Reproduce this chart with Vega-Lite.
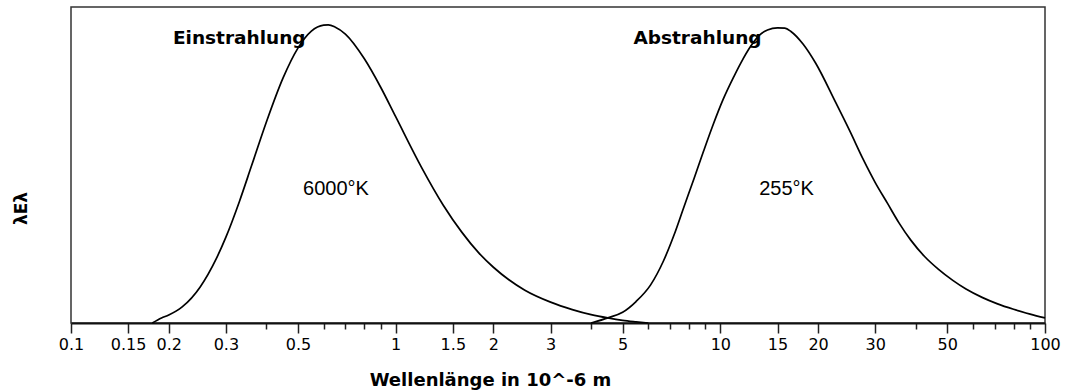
{
  "$schema": "https://vega.github.io/schema/vega-lite/v6.json",
  "width": 974,
  "height": 316,
  "autosize": {"type": "none"},
  "padding": {"left": 71, "top": 7, "right": 23, "bottom": 69},
  "background": "white",
  "config": {"view": {"stroke": "#333", "strokeWidth": 1.5}},
  "datasets": {
    "curves": [
      {"curve": "6000K", "lam": 0.178, "v": 0},
      {"curve": "6000K", "lam": 0.19, "v": 1.7},
      {"curve": "6000K", "lam": 0.2, "v": 2.7},
      {"curve": "6000K", "lam": 0.22, "v": 5.4},
      {"curve": "6000K", "lam": 0.25, "v": 12.1},
      {"curve": "6000K", "lam": 0.28, "v": 21.5},
      {"curve": "6000K", "lam": 0.3, "v": 28.8},
      {"curve": "6000K", "lam": 0.33, "v": 40.7},
      {"curve": "6000K", "lam": 0.36, "v": 52.8},
      {"curve": "6000K", "lam": 0.4, "v": 67.5},
      {"curve": "6000K", "lam": 0.45, "v": 82.2},
      {"curve": "6000K", "lam": 0.5, "v": 92.2},
      {"curve": "6000K", "lam": 0.55, "v": 97.9},
      {"curve": "6000K", "lam": 0.6, "v": 99.9},
      {"curve": "6000K", "lam": 0.62, "v": 100},
      {"curve": "6000K", "lam": 0.65, "v": 99.3},
      {"curve": "6000K", "lam": 0.7, "v": 96.9},
      {"curve": "6000K", "lam": 0.8, "v": 88.7},
      {"curve": "6000K", "lam": 0.9, "v": 79.0},
      {"curve": "6000K", "lam": 1.0, "v": 69.2},
      {"curve": "6000K", "lam": 1.2, "v": 52.3},
      {"curve": "6000K", "lam": 1.4, "v": 39.6},
      {"curve": "6000K", "lam": 1.6, "v": 30.4},
      {"curve": "6000K", "lam": 1.8, "v": 23.6},
      {"curve": "6000K", "lam": 2.0, "v": 18.7},
      {"curve": "6000K", "lam": 2.5, "v": 11.0},
      {"curve": "6000K", "lam": 3.0, "v": 7.0},
      {"curve": "6000K", "lam": 3.5, "v": 4.5},
      {"curve": "6000K", "lam": 4.0, "v": 2.8},
      {"curve": "6000K", "lam": 4.5, "v": 1.7},
      {"curve": "6000K", "lam": 5.0, "v": 0.9},
      {"curve": "6000K", "lam": 5.5, "v": 0.4},
      {"curve": "6000K", "lam": 6.0, "v": 0},
      {"curve": "255K", "lam": 4.0, "v": 0},
      {"curve": "255K", "lam": 4.53, "v": 1.8},
      {"curve": "255K", "lam": 5.0, "v": 3.6},
      {"curve": "255K", "lam": 5.5, "v": 7.2},
      {"curve": "255K", "lam": 6.1, "v": 12.8},
      {"curve": "255K", "lam": 6.68, "v": 20.8},
      {"curve": "255K", "lam": 7.2, "v": 29.5},
      {"curve": "255K", "lam": 7.7, "v": 38.5},
      {"curve": "255K", "lam": 8.3, "v": 48.5},
      {"curve": "255K", "lam": 8.87, "v": 57.5},
      {"curve": "255K", "lam": 9.5, "v": 66.5},
      {"curve": "255K", "lam": 10.2, "v": 75.0},
      {"curve": "255K", "lam": 11.0, "v": 82.6},
      {"curve": "255K", "lam": 11.56, "v": 87.2},
      {"curve": "255K", "lam": 12.43, "v": 93.0},
      {"curve": "255K", "lam": 13.2, "v": 96.6},
      {"curve": "255K", "lam": 13.97, "v": 98.3},
      {"curve": "255K", "lam": 15.0, "v": 99.0},
      {"curve": "255K", "lam": 15.8, "v": 98.9},
      {"curve": "255K", "lam": 16.5, "v": 97.8},
      {"curve": "255K", "lam": 18.0, "v": 93.5},
      {"curve": "255K", "lam": 19.65, "v": 87.2},
      {"curve": "255K", "lam": 22.7, "v": 73.8},
      {"curve": "255K", "lam": 25.0, "v": 64.6},
      {"curve": "255K", "lam": 27.6, "v": 54.7},
      {"curve": "255K", "lam": 30.0, "v": 47.1},
      {"curve": "255K", "lam": 32.7, "v": 40.2},
      {"curve": "255K", "lam": 35.5, "v": 33.6},
      {"curve": "255K", "lam": 38.6, "v": 27.8},
      {"curve": "255K", "lam": 42.5, "v": 22.4},
      {"curve": "255K", "lam": 47.0, "v": 18.0},
      {"curve": "255K", "lam": 52.0, "v": 14.3},
      {"curve": "255K", "lam": 57.1, "v": 11.4},
      {"curve": "255K", "lam": 64.0, "v": 8.6},
      {"curve": "255K", "lam": 71.1, "v": 6.5},
      {"curve": "255K", "lam": 80.0, "v": 4.6},
      {"curve": "255K", "lam": 90.0, "v": 3.0},
      {"curve": "255K", "lam": 100.0, "v": 1.7}
    ],
    "titles": [
      {"label": "Einstrahlung", "lam": 0.206, "v": 93.6},
      {"label": "Abstrahlung", "lam": 5.4, "v": 93.6}
    ],
    "temps": [
      {"label": "6000°K", "lam": 0.655, "v": 42.9},
      {"label": "255°K", "lam": 16.0, "v": 42.9}
    ]
  },
  "encoding": {
    "x": {
      "field": "lam",
      "type": "quantitative",
      "scale": {"type": "log", "domain": [0.1, 100], "nice": false},
      "axis": {
        "values": [0.1, 0.15, 0.2, 0.3, 0.4, 0.5, 0.6, 0.7, 0.8, 0.9, 1, 1.5, 2, 3, 4, 5, 6, 7, 8, 9, 10, 15, 20, 30, 40, 50, 60, 70, 80, 90, 100],
        "format": "~g",
        "labelExpr": "indexof([0.4, 0.6, 0.7, 0.8, 0.9, 4, 6, 7, 8, 9, 40, 60, 70, 80, 90], datum.value) >= 0 ? '' : datum.label",
        "tickSize": {"condition": {"test": "indexof([0.4, 0.6, 0.7, 0.8, 0.9, 4, 6, 7, 8, 9, 40, 60, 70, 80, 90], datum.value) >= 0", "value": 6}, "value": 10},
        "labelFlush": false,
        "labelOverlap": false,
        "grid": false,
        "domainColor": "#111",
        "domainWidth": 2,
        "tickColor": "#222",
        "tickWidth": 1.5,
        "labelFont": "DejaVu Sans",
        "labelFontSize": 16,
        "labelColor": "black",
        "labelPadding": 3,
        "title": "Wellenlänge in 10^-6 m",
        "titleFont": "DejaVu Sans",
        "titleFontSize": 18,
        "titleFontWeight": "bold",
        "titleColor": "black",
        "titleX": 419,
        "titleY": 62,
        "titleAlign": "center",
        "titleBaseline": "alphabetic"
      }
    },
    "y": {
      "field": "v",
      "type": "quantitative",
      "scale": {"domain": [0, 106], "nice": false},
      "axis": {
        "title": "λEλ",
        "labels": false,
        "ticks": false,
        "domain": false,
        "grid": false,
        "titleFont": "DejaVu Sans",
        "titleFontWeight": "bold",
        "titleFontSize": 17,
        "titleColor": "black",
        "titleX": -50,
        "titleY": 201,
        "titleAlign": "center",
        "titleBaseline": "middle",
        "titleAngle": 270
      }
    }
  },
  "layer": [
    {
      "data": {"name": "curves"},
      "mark": {"type": "line", "color": "black", "strokeWidth": 1.7, "interpolate": "monotone"},
      "encoding": {"detail": {"field": "curve", "type": "nominal"}}
    },
    {
      "data": {"name": "titles"},
      "mark": {"type": "text", "align": "left", "baseline": "alphabetic", "font": "DejaVu Sans", "fontWeight": "bold", "fontSize": 18.5, "color": "black"},
      "encoding": {"text": {"field": "label", "type": "nominal"}}
    },
    {
      "data": {"name": "temps"},
      "mark": {"type": "text", "align": "center", "baseline": "alphabetic", "font": "Liberation Sans Narrow, Liberation Sans", "fontSize": 20, "color": "black"},
      "encoding": {"text": {"field": "label", "type": "nominal"}}
    }
  ]
}
